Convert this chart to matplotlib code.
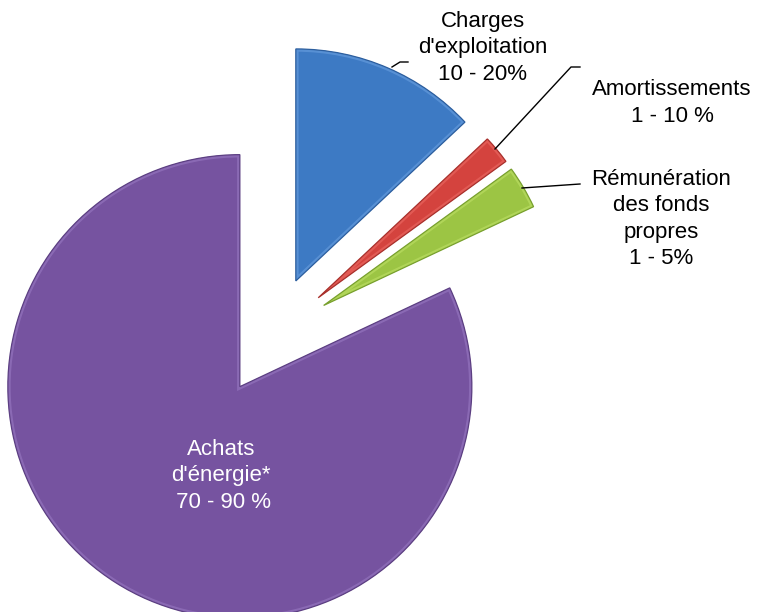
import matplotlib

matplotlib.use("Agg")

import matplotlib.pyplot as plt
from matplotlib.patches import Wedge

# Slice shares (clockwise from 12 o'clock).
categories = ["Charges d'exploitation", "Amortissements", "Rémunération des fonds propres", "Achats d'énergie*"]
shares = [13.0, 2.0, 3.0, 82.0]
labels = [
    "Charges\nd'exploitation\n10 - 20%",
    "Amortissements\n1 - 10 %",
    "Rémunération\ndes fonds\npropres\n1 - 5%",
    "Achats\nd'énergie*\n 70 - 90 %",
]

COLORS = ["#3D7AC4", "#D4433E", "#9CC544", "#7653A0"]
LIGHT = ["#6A9FE0", "#EC6A64", "#BEE066", "#9879C2"]
EDGES = ["#2C5E9E", "#A8302C", "#78A02E", "#5C3F82"]

W, H = 767, 612

fig = plt.figure(figsize=(W / 100, H / 100), dpi=100)
ax = fig.add_axes([0, 0, 1, 1])

radius = 232
center = (272, H - 336)
# explode is in data units (pixels here)
wedges, _ = ax.pie(
    shares,
    colors=COLORS,
    startangle=90,
    counterclock=False,
    radius=radius,
    center=center,
    explode=[60] * 4,
    frame=True,
    wedgeprops=dict(linewidth=0),
)
# soft bevel: light inner rim clipped to the slice, then a thin dark outline
for w, lc, ec in zip(wedges, LIGHT, EDGES):
    rim = Wedge(w.center, w.r, w.theta1, w.theta2, facecolor="none", edgecolor=lc, linewidth=4, alpha=0.6)
    ax.add_patch(rim)
    rim.set_clip_path(w)
    ax.add_patch(Wedge(w.center, w.r, w.theta1, w.theta2, facecolor="none", edgecolor=ec, linewidth=0.9))

ax.set_xlim(0, W)
ax.set_ylim(0, H)
ax.set_aspect("equal")
ax.axis("off")

font = dict(family="Liberation Sans", fontsize=16, linespacing=1.35, ha="center", va="center")

ax.text(483, H - 48, labels[0], color="black", **font)
ax.text(672, H - 103, labels[1], color="black", **font)
ax.text(661, H - 219, labels[2], color="black", **font)
ax.text(221, H - 476, labels[3], color="white", **font)

line = dict(color="black", linewidth=1.0)
ax.plot([392, 400, 408], [H - 67, H - 62, H - 62], **line)
ax.plot([495, 571, 580], [H - 149, H - 67, H - 67], **line)
ax.plot([522, 580], [H - 188, H - 184], **line)

fig.savefig("out.png", dpi=100, facecolor="white")
